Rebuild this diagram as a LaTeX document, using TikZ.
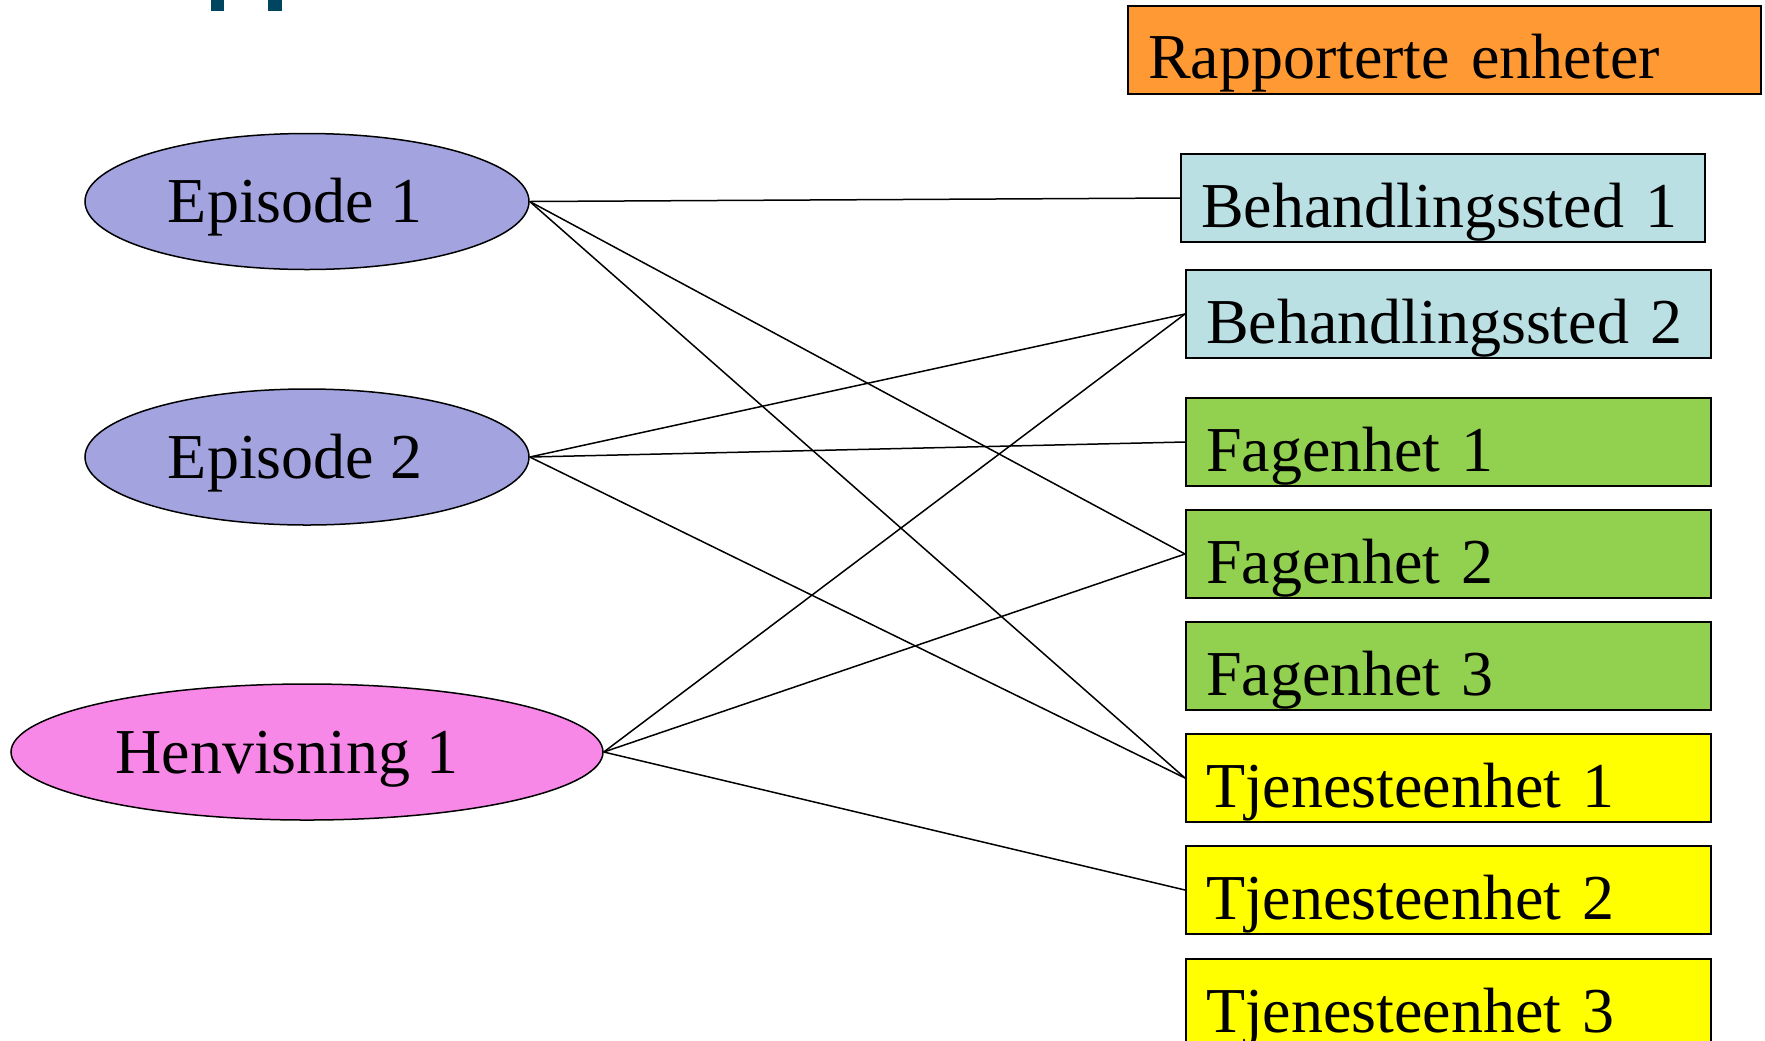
\documentclass[tikz,border=0pt]{standalone}
\usepackage{fontspec}
\setmainfont{Liberation Serif}
\usetikzlibrary{positioning,shapes.geometric}
\definecolor{episode}{RGB}{163,163,224}
\definecolor{henvisning}{RGB}{248,136,232}
\definecolor{rapport}{RGB}{255,153,51}
\definecolor{behsted}{RGB}{187,224,227}
\definecolor{fagenhet}{RGB}{146,208,80}
\definecolor{tjeneste}{RGB}{255,255,0}
\definecolor{titlebar}{RGB}{0,69,96}

\tikzset{
  enhet/.style={draw, line width=1pt, anchor=north west, inner xsep=10pt, inner ysep=0pt,
    text height=36.5pt, text depth=7.5pt, text width=242.5pt, align=left,
    font=\fontsize{32pt}{38pt}\selectfont},
  hendelse/.style={draw, ellipse, line width=0.75pt, inner sep=0pt, minimum width=222pt,
    minimum height=68pt, text height=21pt, text depth=0pt,
    font=\fontsize{32pt}{38pt}\selectfont},
  kobling/.style={line width=0.75pt}
}

\begin{document}
\begin{tikzpicture}[x=0.5pt, y=-0.5pt]
        \useasboundingbox (0,0) rectangle (1765,1040);

        % rest of the cut-off title
        \fill[titlebar] (211,0) rectangle (224,11);
        \fill[titlebar] (268,0) rectangle (282,11);

        % episodes and referral
        \node[hendelse, fill=episode] (e1) at (307,201.5) {Episode 1\kern12pt};
        \node[hendelse, fill=episode] (e2) at (307,457) {Episode 2\kern12pt};
        \node[hendelse, fill=henvisning, minimum width=296pt] (h1) at (307,752) {Henvisning 1\kern20pt};

        % reported units
        \node[enhet, fill=rapport, text width=296.5pt] (rap) at (1127,4.5) {Rapporterte enheter};

        \node[enhet, fill=behsted, text width=242pt] (b1) at (1180,153) {Behandlingssted 1};
        \node[enhet, fill=behsted] (b2) at (1185,269) {Behandlingssted 2};

        \node[enhet, fill=fagenhet] (f1) at (1185,397) {Fagenhet 1};
        \node[enhet, fill=fagenhet] (f2) at (1185,509) {Fagenhet 2};
        \node[enhet, fill=fagenhet] (f3) at (1185,621) {Fagenhet 3};

        \node[enhet, fill=tjeneste] (t1) at (1185,733) {Tjenesteenhet 1};
        \node[enhet, fill=tjeneste] (t2) at (1185,845) {Tjenesteenhet 2};
        \node[enhet, fill=tjeneste] (t3) at (1185,958) {Tjenesteenhet 3};

        % links
        \draw[kobling] (e1.east) -- (b1.west);
        \draw[kobling] (e1.east) -- (f2.west);
        \draw[kobling] (e1.east) -- (t1.west);

        \draw[kobling] (e2.east) -- (b2.west);
        \draw[kobling] (e2.east) -- (f1.west);
        \draw[kobling] (e2.east) -- (t1.west);

        \draw[kobling] (h1.east) -- (b2.west);
        \draw[kobling] (h1.east) -- (f2.west);
        \draw[kobling] (h1.east) -- (t2.west);
\end{tikzpicture}
\end{document}
